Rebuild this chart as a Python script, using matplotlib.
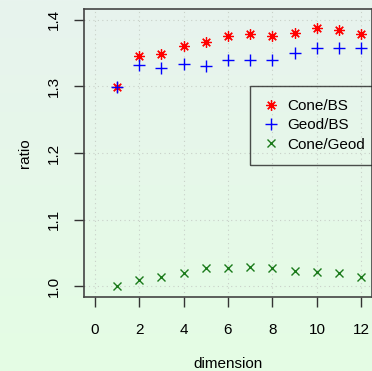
import numpy as np
import matplotlib
matplotlib.use("Agg")
from matplotlib import pyplot as plt
from matplotlib.colors import LinearSegmentedColormap

plt.rcParams["font.family"] = ["Liberation Sans", "DejaVu Sans"]
plt.rcParams["font.size"] = 11

dimension = [1, 2, 3, 4, 5, 6, 7, 8, 9, 10, 11, 12]
cone_bs = [1.299, 1.346, 1.348, 1.360, 1.367, 1.375, 1.378, 1.375, 1.380, 1.387, 1.385, 1.378]
geod_bs = [1.299, 1.332, 1.328, 1.334, 1.331, 1.339, 1.339, 1.339, 1.350, 1.358, 1.358, 1.357]
cone_geod = [1.000, 1.010, 1.014, 1.020, 1.027, 1.028, 1.029, 1.027, 1.023, 1.021, 1.020, 1.014]

fig = plt.figure(figsize=(3.72, 3.71), dpi=100)

# background gradient
bg = fig.add_axes([0, 0, 1, 1], zorder=-10)
cmap = LinearSegmentedColormap.from_list("bg", ["#e8f3ee", "#e4fde4"])
bg.imshow(np.linspace(0, 1, 256).reshape(-1, 1), aspect="auto", cmap=cmap,
          extent=[0, 1, 0, 1])
bg.axis("off")

ax = fig.add_axes([84 / 372, 1 - 297 / 371, 288 / 372, 288 / 371])
ax.patch.set_alpha(0)

ax.plot(dimension, cone_bs, linestyle="none", marker=(8, 2, 0), markersize=7.5,
        markeredgewidth=0.9, color="red", label="Cone/BS")
ax.plot(dimension, geod_bs, linestyle="none", marker="+", markersize=8.5,
        markeredgewidth=1.0, color="blue", label="Geod/BS")
ax.plot(dimension, cone_geod, linestyle="none", marker="x", markersize=6,
        markeredgewidth=1.0, color="#1a7a1a", label="Cone/Geod")

ax.set_xlim(-0.48, 12.48)
ax.set_ylim(0.984, 1.416)
ax.set_xticks(range(0, 13, 2))
ax.set_yticks([1.0, 1.1, 1.2, 1.3, 1.4])
ax.set_yticklabels(["1.0", "1.1", "1.2", "1.3", "1.4"], rotation=90, va="center")
ax.grid(True, color="#c8d0c8", linestyle=(0, (1, 3)), linewidth=0.8)
ax.tick_params(length=7, width=1, color="#333333", pad=12)
ax.tick_params(axis="y", pad=10)
for s in ax.spines.values():
    s.set_color("#444444")
    s.set_linewidth(1.2)

ax.set_xlabel("dimension", labelpad=14)
ax.set_ylabel("ratio", labelpad=10)

ax.legend(loc="upper left", bbox_to_anchor=(0.576, 0.733), borderaxespad=0,
          fancybox=False, edgecolor="#222222", facecolor="none", framealpha=None,
          handlelength=1.0, handletextpad=0.6, borderpad=0.85, labelspacing=0.35)

fig.savefig("out.png", dpi=100)
